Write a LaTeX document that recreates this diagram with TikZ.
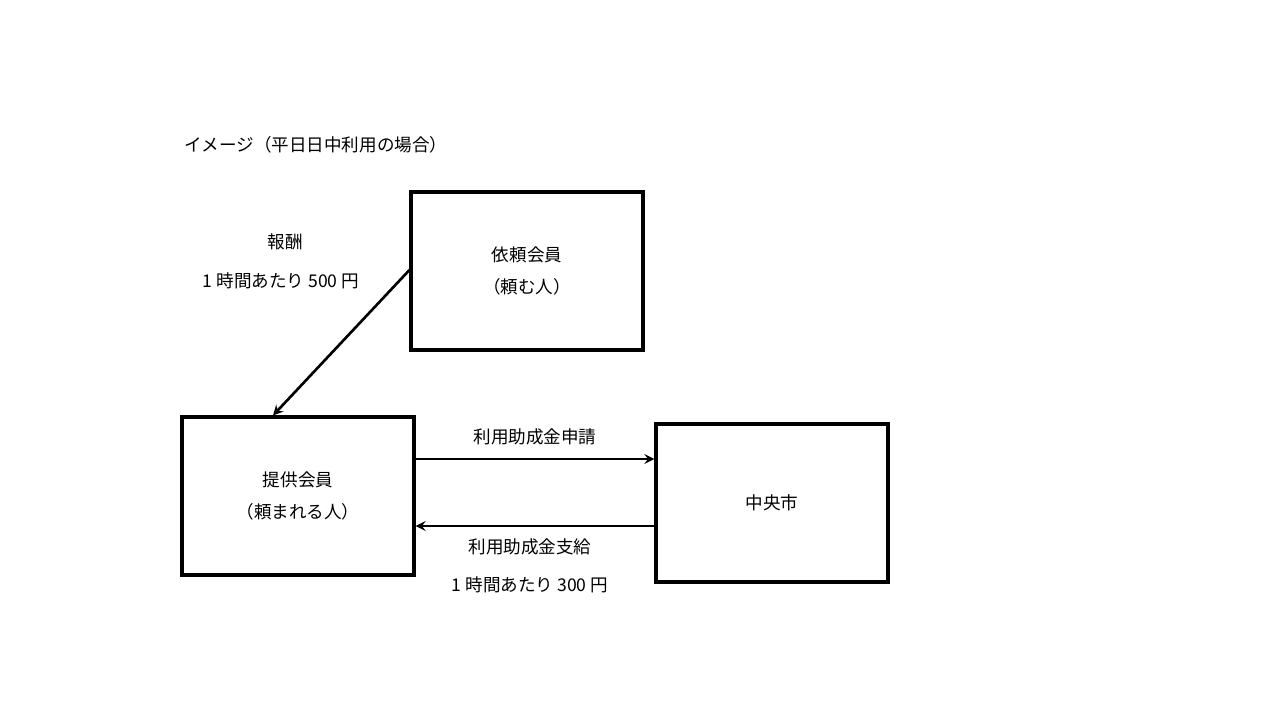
\documentclass[tikz,border=0pt]{standalone}
\usepackage{fontspec}
\setmainfont{Noto Sans CJK JP}
\usetikzlibrary{positioning}
\tikzset{
  member/.style={draw,line width=1.8pt,minimum width=4.64cm,minimum height=3.16cm,align=center},
  flow/.style={->,>=stealth,line width=1.5pt},
  lbl/.style={font=\fontsize{10}{12}\selectfont}
}
\begin{document}
\begin{tikzpicture}[x=0.02cm,y=-0.02cm,lbl]
        \useasboundingbox (0,0) rectangle (1280,720);
        \node[anchor=west] (title) at (178,145) {イメージ（平日日中利用の場合）};
        \node[member] (irai) at (527,271) {依頼会員\\[6pt]（頼む人）};
        \node[member] (teikyo) at (298,496) {提供会員\\[6pt]（頼まれる人）};
        \node[member] (city) at (772,503) {中央市};
        \node (fee) at (285,242) {報酬};
        \node (feeval) at (281,281) {1 時間あたり 500 円};
        \draw[flow] (irai.west |- 0,270) -- (teikyo.north -| 273,0);
        \draw[flow] (teikyo.east |- 0,459) -- node[above=4pt] {利用助成金申請} (city.west |- 0,459);
        \draw[flow] (city.west |- 0,526) -- (teikyo.east |- 0,526);
        \node (pay) at (530,547) {利用助成金支給};
        \node (payval) at (530,585) {1 時間あたり 300 円};
\end{tikzpicture}
\end{document}
